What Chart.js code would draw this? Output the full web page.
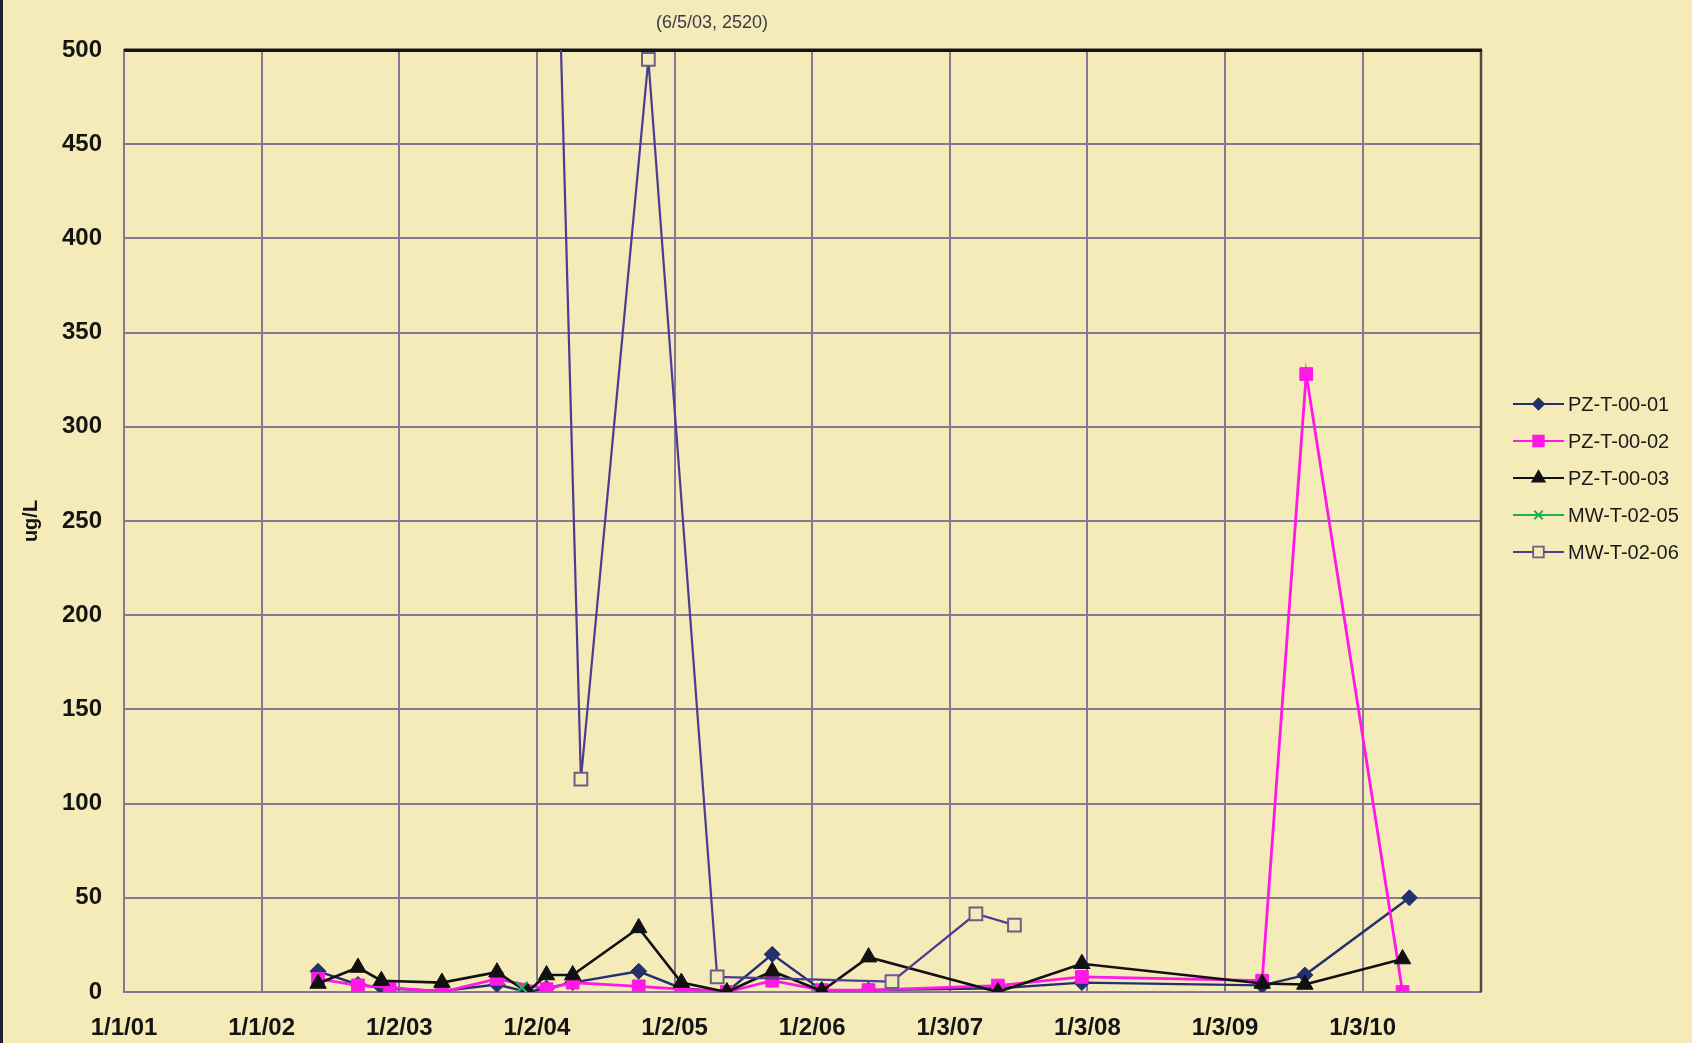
<!DOCTYPE html>
<html>
<head>
<meta charset="utf-8">
<script src="https://cdn.jsdelivr.net/npm/chart.js@4.4.0/dist/chart.umd.min.js"></script>
<style>
  html, body { margin: 0; padding: 0; background: #f5ebb8; }
  #wrap { position: relative; width: 1692px; height: 1043px; }
  #edge { position: absolute; left: 0; top: 0; width: 3px; height: 1043px; background: #1d2430; }
</style>
</head>
<body>
<div id="wrap">
  <canvas id="chart" width="1692" height="1043"></canvas>
  <div id="edge"></div>
</div>
<script>
// x values are years after 1/1/01 (one axis step = one year)
const tickYears = [0, 1, 2, 3, 4, 5, 6, 7, 8, 9];
const tickLabels = ['1/1/01', '1/1/02', '1/2/03', '1/2/04', '1/2/05', '1/2/06', '1/3/07', '1/3/08', '1/3/09', '1/3/10'];
const yTicks = [0, 50, 100, 150, 200, 250, 300, 350, 400, 450, 500];
const xMax = 9.86;

const seriesNames = ['PZ-T-00-01', 'PZ-T-00-02', 'PZ-T-00-03', 'MW-T-02-05', 'MW-T-02-06'];

const pz01Years = [1.41, 1.70, 1.88, 2.31, 2.71, 2.93, 3.07, 3.26, 3.74, 4.05, 4.38, 4.71, 5.07, 5.41, 6.35, 6.96, 8.27, 8.58, 9.34];
const pz01Values = [11, 4, 2, 0.5, 4, 0, 2, 5, 11, 2, 0, 20, 1, 1, 2, 5, 3.5, 9, 50];

const pz02Years = [1.41, 1.70, 1.93, 2.31, 2.71, 3.07, 3.26, 3.74, 4.05, 4.38, 4.71, 5.07, 5.41, 6.35, 6.96, 8.27, 8.59, 9.29];
const pz02Values = [7, 3.5, 2.5, 0, 7, 1.5, 5, 3, 1.5, 0, 6, 1, 1, 3.4, 8, 6, 328, 0];

const pz03Years = [1.41, 1.70, 1.87, 2.31, 2.71, 2.93, 3.07, 3.26, 3.74, 4.05, 4.38, 4.71, 5.07, 5.41, 6.35, 6.96, 8.27, 8.58, 9.29];
const pz03Values = [4.5, 13, 6, 5, 10.5, 0, 9, 9, 34, 5, 0, 11, 0.5, 18.5, 0, 15, 4.5, 4, 17.5];

const mw05Years = [2.89];
const mw05Values = [2.4];

const mw06Years = [2.42, 3.32, 3.81, 4.31, 5.58, 6.19, 6.47];
const mw06Values = [2520, 113, 495, 8, 5.5, 41.5, 35.5];

const noteText = '(6/5/03, 2520)';

const gridCol = '#857898';
const bg = '#f5ebb8';
const fontFam = '"Liberation Sans", Arial, sans-serif';

function pts(xs, ys) {
    return xs.map((x, i) => ({ x: x, y: ys[i] }));
}

const styles = [
    { color: '#24306b', fill: '#24306b', pointStyle: 'rectRot', r: 8, lr: 5.5, w: 2.4 },
    { color: '#ff18e6', fill: '#ff18e6', pointStyle: 'rect', r: 9, lr: 7.5, w: 2.8 },
    { color: '#111111', fill: '#111111', pointStyle: 'triangle', r: 9.5, lr: 7, w: 2.6 },
    { color: '#1bb05a', fill: '#1bb05a', pointStyle: 'crossRot', r: 8, lr: 6, w: 2 },
    { color: '#4c3c92', fill: bg, pointStyle: 'rect', r: 9, lr: 7.5, w: 2.2, pointBorder: '#6a5e86' }
];

const allData = [
    pts(pz01Years, pz01Values),
    pts(pz02Years, pz02Values),
    pts(pz03Years, pz03Values),
    pts(mw05Years, mw05Values),
    pts(mw06Years, mw06Values)
];

const datasets = seriesNames.map((name, i) => {
    const s = styles[i];
    return {
        label: name,
        data: allData[i],
        borderColor: s.color,
        backgroundColor: s.fill,
        borderWidth: s.w,
        pointStyle: s.pointStyle,
        pointRadius: s.r,
        pointBorderColor: s.pointBorder || s.color,
        pointBackgroundColor: s.fill,
        pointBorderWidth: i == 4 ? 2 : (i == 3 ? 2.4 : 1),
        tension: 0,
        order: 5 - i
    };
});

const framePlugin = {
    id: 'frame',
    beforeDatasetsDraw(chart) {
        const ctx = chart.ctx;
        const a = chart.chartArea;
        ctx.save();
        ctx.strokeStyle = '#4a4a4a';
        ctx.lineWidth = 2.5;
        ctx.beginPath();
        ctx.moveTo(a.right, a.top);
        ctx.lineTo(a.right, a.bottom);
        ctx.stroke();
        ctx.strokeStyle = '#151515';
        ctx.lineWidth = 3;
        ctx.beginPath();
        ctx.moveTo(a.left, a.top);
        ctx.lineTo(a.right + 1, a.top);
        ctx.stroke();
        ctx.restore();
    }
};

const sideLegend = {
    id: 'sideLegend',
    afterDraw(chart) {
        const ctx = chart.ctx;
        ctx.save();
        seriesNames.forEach((name, i) => {
            const s = styles[i];
            const y = 404 + i * 37;
            ctx.strokeStyle = s.color;
            ctx.lineWidth = 1.8;
            ctx.beginPath();
            ctx.moveTo(1513, y);
            ctx.lineTo(1564, y);
            ctx.stroke();
            ctx.fillStyle = s.fill;
            ctx.strokeStyle = s.pointBorder || s.color;
            Chart.helpers.drawPoint(ctx, {
                pointStyle: s.pointStyle,
                radius: s.lr,
                rotation: 0,
                borderWidth: i == 4 ? 1.8 : (i == 3 ? 2 : 1)
            }, 1538.5, y);
            ctx.fillStyle = '#1a1a1a';
            ctx.font = '20px ' + fontFam;
            ctx.textBaseline = 'middle';
            ctx.textAlign = 'left';
            ctx.fillText(name, 1568, y + 1);
        });
        // note for the off-scale point
        ctx.fillStyle = '#3a3a48';
        ctx.font = '18px ' + fontFam;
        ctx.textAlign = 'center';
        ctx.textBaseline = 'middle';
        ctx.fillText(noteText, 712, 23);
        ctx.restore();
    }
};

new Chart(document.getElementById('chart'), {
    type: 'line',
    data: { datasets: datasets },
    options: {
        responsive: false,
        animation: false,
        layout: { padding: { left: 0, right: 211, top: 50, bottom: 0 } },
        plugins: {
            legend: { display: false },
            tooltip: { enabled: false }
        },
        scales: {
            x: {
                type: 'linear',
                min: 0,
                max: xMax,
                afterBuildTicks: (scale) => {
                    scale.ticks = tickYears.map(v => ({ value: v }));
                },
                afterFit: (scale) => { scale.height = 51; },
                grid: { color: gridCol, lineWidth: 2, drawTicks: false },
                border: { color: gridCol, width: 2 },
                ticks: {
                    autoSkip: false,
                    maxRotation: 0,
                    padding: 22,
                    color: '#141414',
                    font: { family: fontFam, size: 24, weight: 'bold' },
                    callback: (v) => tickLabels[tickYears.indexOf(v)]
                }
            },
            y: {
                min: 0,
                max: 500,
                afterBuildTicks: (scale) => {
                    scale.ticks = yTicks.map(v => ({ value: v }));
                },
                afterFit: (scale) => { scale.width = 124; },
                grid: {
                    drawTicks: false,
                    color: (c) => (c.tick && c.tick.value === 500) ? '#151515' : gridCol,
                    lineWidth: (c) => (c.tick && c.tick.value === 500) ? 3 : 2
                },
                border: { color: gridCol, width: 2 },
                title: {
                    display: true,
                    text: 'ug/L',
                    color: '#141414',
                    font: { family: fontFam, size: 20, weight: 'bold' },
                    padding: { top: 19, bottom: 0 }
                },
                ticks: {
                    padding: 22,
                    color: '#141414',
                    font: { family: fontFam, size: 24, weight: 'bold' }
                }
            }
        }
    },
    plugins: [framePlugin, sideLegend]
});
</script>
</body>
</html>
